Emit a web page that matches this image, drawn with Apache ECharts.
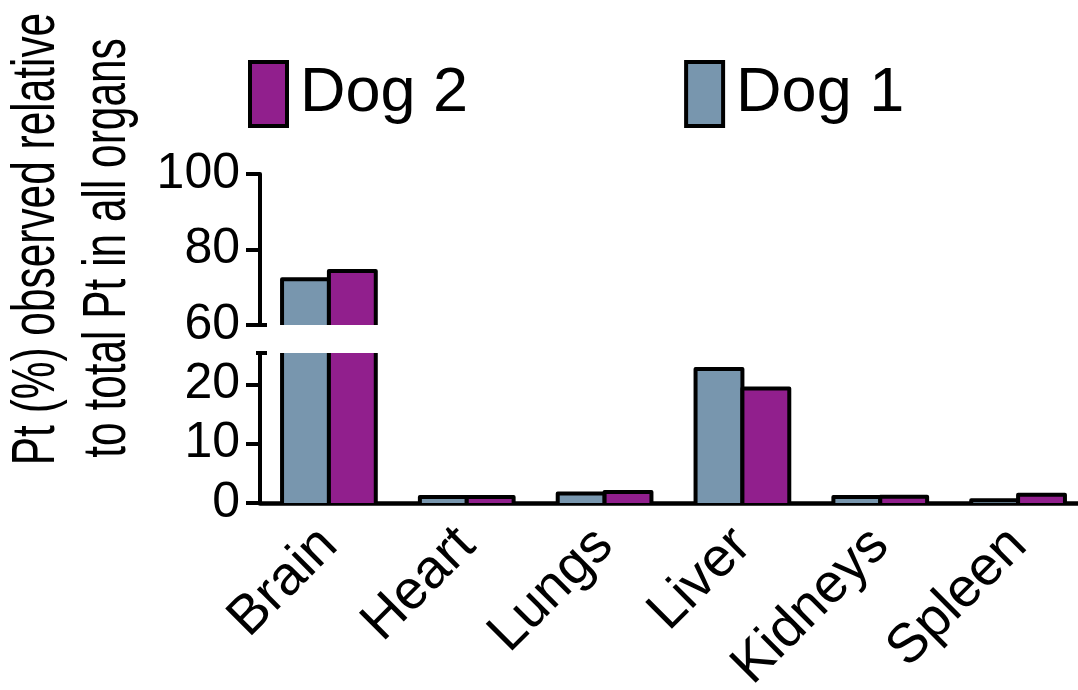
<!DOCTYPE html>
<html>
<head>
<meta charset="utf-8">
<script src="https://cdn.jsdelivr.net/npm/echarts@6/dist/echarts.min.js"></script>
<style>
html,body{margin:0;padding:0;background:#fff;}
#chart{width:1078px;height:690px;}
</style>
</head>
<body>
<div id="chart"></div>
<script>
const categories = ['Brain', 'Heart', 'Lungs', 'Liver', 'Kidneys', 'Spleen'];
const dog1 = [72.1, 1.0, 1.6, 22.6, 1.0, 0.45];
const dog2 = [74.3, 1.0, 1.85, 19.3, 1.05, 1.4];
const seriesNames = ['Dog 1', 'Dog 2'];
const legendOrder = ['Dog 2', 'Dog 1'];
const lowerTicks = [0, 10, 20];
const upperTicks = [60, 80, 100];
const titleLines = ['Pt (%) observed relative', 'to total Pt in all organs'];

const FONT = '"Liberation Sans", Arial, Helvetica, sans-serif';
const colors = ['#7896AE', '#911F8D'];
const LOWER = { min: 0, max: 25.3 };
const UPPER = { min: 60, max: 100 };
const STROKE = 4;

function makeRender(sIdx, range, gridKind) {
  return function (params, api) {
    const cs = params.coordSys;
    const ci = api.value(0);
    const v = api.value(1);
    const band = api.size([1, 0])[0];
    const bw = band * 0.34;
    const base = api.coord([ci, range.min]);
    const x0 = sIdx === 0 ? base[0] - bw : base[0];
    const children = [];
    if (v > range.min) {
      const clipped = Math.min(v, range.max);
      const top = api.coord([ci, clipped])[1];
      const yb = base[1];
      children.push({
        type: 'rect',
        shape: { x: x0, y: top, width: bw, height: yb - top },
        style: { fill: colors[sIdx] }
      });
      const ls = { stroke: '#000', lineWidth: STROKE, fill: null, lineJoin: 'round', lineCap: 'butt' };
      if (v > range.max) {
        children.push({ type: 'line', shape: { x1: x0, y1: yb, x2: x0, y2: top }, style: ls });
        children.push({ type: 'line', shape: { x1: x0 + bw, y1: yb, x2: x0 + bw, y2: top }, style: ls });
      } else {
        children.push({
          type: 'polyline',
          shape: { points: [[x0, yb], [x0, top], [x0 + bw, top], [x0 + bw, yb]] },
          style: ls
        });
      }
    }
    // axis break caps
    if (sIdx === 0 && params.dataIndex === 0) {
      const capStyle = { stroke: '#000', lineWidth: STROKE };
      if (gridKind === 'lower') {
        children.push({ type: 'line', shape: { x1: cs.x - 4, y1: cs.y, x2: cs.x + 7, y2: cs.y }, style: capStyle });
      } else {
        const yb = cs.y + cs.height;
        children.push({ type: 'line', shape: { x1: cs.x, y1: yb, x2: cs.x + 7, y2: yb }, style: capStyle });
      }
    }
    return { type: 'group', children: children };
  };
}

const seriesData = [dog1, dog2];
const series = [];
[['lower', 0, LOWER], ['upper', 1, UPPER]].forEach(function (g) {
  seriesNames.forEach(function (name, sIdx) {
    series.push({
      type: 'custom',
      name: name,
      xAxisIndex: g[1],
      yAxisIndex: g[1],
      itemStyle: { color: colors[sIdx] },
      renderItem: makeRender(sIdx, g[2], g[0]),
      encode: { x: 0, y: 1 },
      data: categories.map(function (c, i) { return [i, seriesData[sIdx][i]]; }),
      silent: true
    });
  });
});

const axisLineStyle = { color: '#000', width: 4 };
const yLabel = { fontSize: 50, color: '#000', fontFamily: FONT, margin: 20 };

const option = {
  animation: false,
  backgroundColor: '#fff',
  legend: {
    data: legendOrder,
    left: 248,
    top: 60,
    padding: 0,
    icon: 'rect',
    itemWidth: 37,
    itemHeight: 64,
    itemGap: 216,
    itemStyle: { borderColor: '#000', borderWidth: 4 },
    textStyle: { fontSize: 63, color: '#000', fontFamily: FONT, padding: [0, 0, 0, 8] },
    selectedMode: false
  },
  grid: [
    { left: 260, top: 353, width: 827, height: 150, outerBoundsMode: 'none' },
    { left: 260, top: 174, width: 827, height: 151, outerBoundsMode: 'none' }
  ],
  xAxis: [
    {
      gridIndex: 0, type: 'category', data: categories,
      axisLine: { lineStyle: { color: '#000', width: 4.5 } },
      axisTick: { alignWithLabel: true, length: 12, lineStyle: { color: '#000', width: 4 } },
      axisLabel: { rotate: 45, fontSize: 55, color: '#000', fontFamily: FONT, margin: 34 }
    },
    { gridIndex: 1, type: 'category', data: categories, show: false }
  ],
  yAxis: [
    {
      gridIndex: 0, type: 'value', min: LOWER.min, max: LOWER.max, interval: 10,
      axisLine: { show: true, lineStyle: axisLineStyle },
      axisTick: { show: true, length: 14, lineStyle: axisLineStyle, customValues: lowerTicks },
      axisLabel: Object.assign({ customValues: lowerTicks }, yLabel),
      splitLine: { show: false }
    },
    {
      gridIndex: 1, type: 'value', min: UPPER.min, max: UPPER.max, interval: 20,
      axisLine: { show: true, lineStyle: axisLineStyle },
      axisTick: { show: true, length: 14, lineStyle: axisLineStyle, customValues: upperTicks },
      axisLabel: Object.assign({ customValues: upperTicks }, yLabel),
      splitLine: { show: false }
    }
  ],
  graphic: [
    {
      type: 'text', x: 37, y: 239, rotation: Math.PI / 2, scaleX: 0.695,
      style: { text: titleLines[0], fontSize: 61, fontFamily: FONT, fill: '#000', align: 'center', verticalAlign: 'middle' }
    },
    {
      type: 'text', x: 108, y: 248, rotation: Math.PI / 2, scaleX: 0.695,
      style: { text: titleLines[1], fontSize: 61, fontFamily: FONT, fill: '#000', align: 'center', verticalAlign: 'middle' }
    }
  ],
  series: series
};

const chart = echarts.init(document.getElementById('chart'), null, { renderer: 'canvas' });
chart.setOption(option);
</script>
</body>
</html>
